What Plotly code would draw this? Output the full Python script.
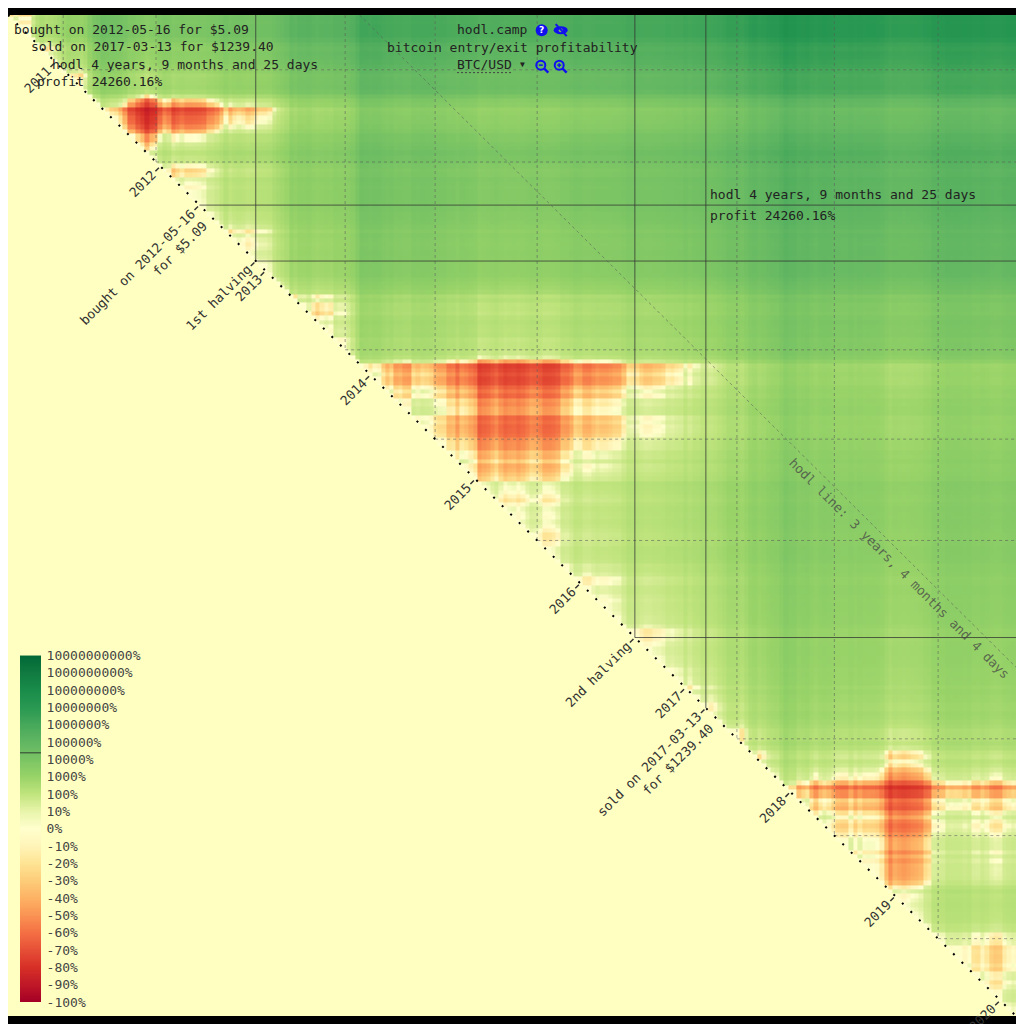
import numpy as np
import pandas as pd
import plotly.graph_objects as go

# BTC/USD, roughly every half month (1st and 15th), first point 2010-07-18, last 2020-02-24
price_2010 = [0.08, 0.06, 0.07, 0.06, 0.06, 0.06, 0.10, 0.19, 0.27, 0.21, 0.24]
price_2011 = [0.30, 0.40, 0.70, 1.05, 0.90, 0.87, 0.78, 1.07, 3.0, 7.0, 9.6, 19.5,
              16.1, 13.8, 13.1, 11.0, 8.2, 5.0, 5.0, 3.8, 3.2, 2.3, 3.0, 3.2]
price_2012 = [5.2, 6.8, 6.1, 4.4, 4.9, 5.4, 4.9, 4.9, 5.0, 5.1, 5.3, 6.5,
              6.7, 7.6, 9.4, 13.3, 10.1, 11.7, 12.4, 11.8, 10.6, 11.2, 12.6, 13.4]
price_2013 = [13.5, 14.3, 20.4, 27.0, 34.5, 47.0, 104, 83, 116, 114, 129, 100,
              88, 98, 105, 99, 135, 127, 128, 150, 204, 420, 960, 870]
price_2014 = [770, 860, 830, 650, 560, 630, 480, 500, 450, 445, 630, 590,
              640, 620, 590, 500, 478, 475, 385, 395, 325, 400, 380, 345]
price_2015 = [315, 210, 225, 235, 260, 285, 245, 220, 232, 237, 222, 236,
              258, 285, 280, 260, 228, 230, 238, 255, 325, 320, 360, 445]
price_2016 = [432, 375, 372, 405, 432, 415, 417, 430, 452, 457, 537, 695,
              680, 665, 605, 570, 575, 607, 615, 640, 728, 712, 755, 780]
price_2017 = [1000, 820, 990, 1010, 1220, 1250, 1080, 1180, 1420, 1740, 2400, 2440,
              2430, 1950, 2720, 4200, 4890, 3700, 4400, 5700, 6750, 7300, 10900, 17600]
price_2018 = [13500, 13600, 9100, 10100, 10900, 8200, 6800, 8350, 9100, 8500, 7500, 6500,
              6350, 6350, 7600, 6300, 7200, 6500, 6600, 6550, 6350, 5600, 4100, 3200]
price_2019 = [3800, 3600, 3450, 3600, 3800, 3900, 4100, 5050, 5350, 8200, 8550, 8800,
              10600, 10200, 10400, 10300, 9600, 10300, 8300, 8150, 9250, 8500, 7400, 7100]
price_2020 = [7200, 8800, 9350, 9900, 9650]

prices = (price_2010 + price_2011 + price_2012 + price_2013 + price_2014 + price_2015
          + price_2016 + price_2017 + price_2018 + price_2019 + price_2020)
dates = ([pd.Timestamp('2010-07-18')]
         + list(pd.date_range('2010-08-01', '2020-02-15', freq='SMS'))
         + [pd.Timestamp('2020-02-24')])
assert len(dates) == len(prices), (len(dates), len(prices))

# colorbar labels
cb_vals = list(range(-10, 11))
cb_text = ['%d%%' % (v * 10) for v in range(-10, 1)] + ['1' + '0' * k + '%' for k in range(1, 11)]

# diagonal labels
diag_dates = ['2011-01-01', '2012-01-01', '2012-05-16', '2012-11-28', '2013-01-01',
              '2014-01-01', '2015-01-01', '2016-01-01', '2016-07-09', '2017-01-01',
              '2017-03-13', '2018-01-01', '2019-01-01', '2020-01-01']
diag_text = ['2011', '2012', 'bought on 2012-05-16<br>for $5.09', '1st halving', '2013',
             '2014', '2015', '2016', '2nd halving', '2017',
             'sold on 2017-03-13<br>for $1239.40', '2018', '2019', '2020']

halvings = ['2012-11-28', '2016-07-09']
grid_dates = ['2011-01-28', '2011-12-17', '2013-10-05', '2014-08-14', '2015-08-04',
              '2017-06-29', '2018-06-03', '2019-05-30']

buy_date, buy_price = '2012-05-16', 5.09
sell_date, sell_price = '2017-03-13', 1239.40
hodl_txt = '4 years, 9 months and 25 days'
profit_pct = 24260.16
hodl_line = pd.DateOffset(years=3, months=4, days=4)
hodl_line_txt = 'hodl line: 3 years, 4 months and 4 days'

start, end = pd.Timestamp('2010-07-20'), pd.Timestamp('2020-02-25')

# profit matrix: rows = buy, cols = sell, mapped to the -10..10 colour index
p = np.array(prices, dtype=float)
pct = (p[None, :] / p[:, None] - 1) * 100
t = np.where(pct < 10, pct / 10, np.log10(np.maximum(pct, 10)))
n = len(p)
t[np.tril_indices(n, -1)] = np.nan

# colours, one per label (-100% ... 10000000000%)
cb_colors = ['rgb(165,0,38)', 'rgb(192,24,39)', 'rgb(215,48,39)', 'rgb(230,80,55)',
             'rgb(244,112,68)', 'rgb(250,148,84)', 'rgb(253,178,100)', 'rgb(253,205,122)',
             'rgb(254,228,148)', 'rgb(255,244,185)', 'rgb(255,255,205)', 'rgb(232,244,170)',
             'rgb(192,228,125)', 'rgb(152,211,104)', 'rgb(122,196,100)', 'rgb(97,182,98)',
             'rgb(70,168,90)', 'rgb(40,152,82)', 'rgb(26,140,74)', 'rgb(16,122,64)',
             'rgb(0,104,55)']
cscale = [[i / 20, c] for i, c in enumerate(cb_colors)]

W = 1008.0
def px(x):
    return (x - 8) / W
def py(y):
    return 1 - (y - 8) / W

cb_top, cb_bot, cb_left, cb_right = 653, 1002, 20, 41
FONT = 'DejaVu Sans Mono'

fig = go.Figure()
fig.add_trace(go.Heatmap(x=dates, y=dates, z=t, zmin=-10, zmax=10, colorscale=cscale,
                         hoverinfo='skip', showscale=False))

# colour bar drawn as its own small heatmap
cb_y = np.linspace(-10, 10, 401)
fig.add_trace(go.Heatmap(x=[0], y=cb_y, z=cb_y[:, None], zmin=-10, zmax=10, colorscale=cscale,
                         showscale=False, hoverinfo='skip', xaxis='x2', yaxis='y2'))

line_col = 'rgba(50,50,50,0.75)'
grid_col = 'rgba(90,90,90,0.55)'

# grid (upper triangle only)
for d in grid_dates:
    fig.add_shape(type='line', x0=d, y0=d, x1=end, y1=d, line=dict(color=grid_col, width=1, dash='3px,3px'))
    fig.add_shape(type='line', x0=d, y0=start, x1=d, y1=d, line=dict(color=grid_col, width=1, dash='3px,3px'))
for d in halvings:
    fig.add_shape(type='line', x0=d, y0=d, x1=end, y1=d, line=dict(color=line_col, width=1))
    fig.add_shape(type='line', x0=d, y0=start, x1=d, y1=d, line=dict(color=line_col, width=1))
# crosshair
fig.add_shape(type='line', x0=buy_date, y0=buy_date, x1=end, y1=buy_date, line=dict(color=line_col, width=1))
fig.add_shape(type='line', x0=sell_date, y0=start, x1=sell_date, y1=sell_date, line=dict(color=line_col, width=1))

# hodl line
fig.add_shape(type='line', x0=start + hodl_line, y0=start, x1=end, y1=end - hodl_line,
              line=dict(color=grid_col, width=1, dash='3px,3px'))
lab = pd.Timestamp('2015-10-10')
fig.add_annotation(x=lab + hodl_line, y=lab, text=hodl_line_txt, textangle=45, showarrow=False,
                   xshift=-8.5, yshift=-8.5, font=dict(family=FONT, size=13, color='rgba(70,70,70,0.75)'))

# dotted diagonal
fig.add_shape(type='line', x0=start, y0=start, x1=end, y1=end, line=dict(color='black', width=2, dash='2px,10px'))

# diagonal labels and ticks
CW = 0.602 * 13
LH = 13 * 1.3
R2 = np.sqrt(0.5)
dpp = (end - start).days / W
for d, txt in zip(diag_dates, diag_text):
    lines = txt.split('<br>')
    w = max(len(s) for s in lines) * CW
    a = w / 2 + 9
    b = (len(lines) - 1) * LH / 2
    fig.add_annotation(x=d, y=d, text=txt, textangle=-45, showarrow=False, align='right',
                       xshift=(-a + b) * R2, yshift=-(a + b) * R2,
                       font=dict(family=FONT, size=13, color='#333'))
    d = pd.Timestamp(d)
    o1 = pd.Timedelta(days=2 * R2 * dpp)
    o2 = pd.Timedelta(days=7 * R2 * dpp)
    fig.add_shape(type='line', x0=d - o1, y0=d + o1, x1=d - o2, y1=d + o2, line=dict(color='#333', width=1.5))

# info text top-left
info = ['bought on %s for $%.2f' % (buy_date, buy_price),
        'sold on %s for $%.2f' % (sell_date, sell_price),
        'hodl ' + hodl_txt,
        'profit %.2f%%' % profit_pct]
info_pos = [(12, 23), (29, 40), (50, 58), (35, 75)]
for s, (x, y) in zip(info, info_pos):
    fig.add_annotation(xref='paper', yref='paper', x=px(x), y=py(y), text=s, showarrow=False,
                       xanchor='left', yanchor='middle', font=dict(family=FONT, size=13, color='#222'))

# info next to crosshair
fig.add_annotation(x=sell_date, y=buy_date, text='hodl ' + hodl_txt, showarrow=False,
                   xanchor='left', yanchor='bottom', xshift=2, yshift=1,
                   font=dict(family=FONT, size=13, color='#222'))
fig.add_annotation(x=sell_date, y=buy_date, text='profit %.2f%%' % profit_pct, showarrow=False,
                   xanchor='left', yanchor='top', xshift=2, yshift=-1,
                   font=dict(family=FONT, size=13, color='#222'))

# title block
fig.add_annotation(xref='paper', yref='paper', x=px(455), y=py(23), text='hodl.camp', showarrow=False,
                   xanchor='left', yanchor='middle', font=dict(family=FONT, size=13, color='#222'))
fig.add_annotation(xref='paper', yref='paper', x=px(512), y=py(41), text='bitcoin entry/exit profitability',
                   showarrow=False, xanchor='center', yanchor='middle', font=dict(family=FONT, size=13, color='#222'))
fig.add_annotation(xref='paper', yref='paper', x=px(455), y=py(58), text='BTC/USD', showarrow=False,
                   xanchor='left', yanchor='middle', font=dict(family=FONT, size=13, color='#222'))
fig.add_annotation(xref='paper', yref='paper', x=px(522.5), y=py(57.5), text='\u25bc', showarrow=False,
                   xanchor='center', yanchor='middle', font=dict(family=FONT, size=8, color='#222'))
fig.add_shape(type='line', xref='paper', yref='paper', x0=px(457), x1=px(512), y0=py(66), y1=py(66),
              line=dict(color='#444', width=1, dash='2px,2px'))

blue = '#1010ee'
def pshape(kind, cx, cy, x0, y0, x1, y1, **kw):
    fig.add_shape(type=kind, xref='paper', yref='paper', xsizemode='pixel', ysizemode='pixel',
                  xanchor=px(cx), yanchor=py(cy), x0=x0, y0=y0, x1=x1, y1=y1, **kw)

# question icon
pshape('circle', 541.7, 23.3, -6, -6, 6, 6, fillcolor=blue, line=dict(width=0))
fig.add_annotation(xref='paper', yref='paper', x=px(541.7), y=py(23.3), text='<b>?</b>', showarrow=False,
                   xanchor='center', yanchor='middle', font=dict(family='DejaVu Sans', size=9, color='white'))
# eye-slash icon
pshape('circle', 560.7, 23.3, -7, -4, 7, 4, fillcolor=blue, line=dict(width=0))
pshape('circle', 560.7, 23.3, -2, -2, 2, 2, fillcolor='rgba(120,190,100,1)', line=dict(width=0))
pshape('line', 560.7, 23.3, -5, 6, 6, -6, line=dict(color=blue, width=2))
# zoom icons
for cx, plus in [(542.3, False), (560.7, True)]:
    pshape('circle', cx, 59, -6, -4, 3, 5, line=dict(color=blue, width=2))
    pshape('line', cx, 59, 2, -3, 6, -7, line=dict(color=blue, width=2.5))
    pshape('line', cx, 59, -3.5, 0.5, 0.5, 0.5, line=dict(color=blue, width=1.5))
    if plus:
        pshape('line', cx, 59, -1.5, -1.5, -1.5, 2.5, line=dict(color=blue, width=1.5))

# marker of current profit on the colour bar
fig.add_shape(type='line', xref='x2', yref='y2', x0=-0.5, x1=0.5, y0=np.log10(profit_pct), y1=np.log10(profit_pct),
              line=dict(color='rgba(40,40,40,0.85)', width=1))

fig.update_layout(
    width=1016, height=1016, margin=dict(l=0, r=8, t=0, b=8),
    paper_bgcolor='black', plot_bgcolor='#ffffc1',
    font=dict(family=FONT, size=13, color='#222'),
    xaxis=dict(range=[start, end], showgrid=False, zeroline=False, showticklabels=False, ticks=''),
    yaxis=dict(range=[end, start], showgrid=False, zeroline=False, showticklabels=False, ticks=''),
    xaxis2=dict(domain=[px(cb_left), px(cb_right)], range=[-0.5, 0.5], anchor='y2', showgrid=False,
                zeroline=False, showticklabels=False, ticks=''),
    yaxis2=dict(domain=[py(cb_bot), py(cb_top)], range=[-10, 10], anchor='x2', side='right',
                showgrid=False, zeroline=False, tickvals=cb_vals, ticktext=cb_text,
                ticks='outside', ticklen=2, tickcolor='rgba(0,0,0,0)',
                tickfont=dict(family=FONT, size=13, color='#444')),
    showlegend=False,
)

fig.write_html('out.html')
